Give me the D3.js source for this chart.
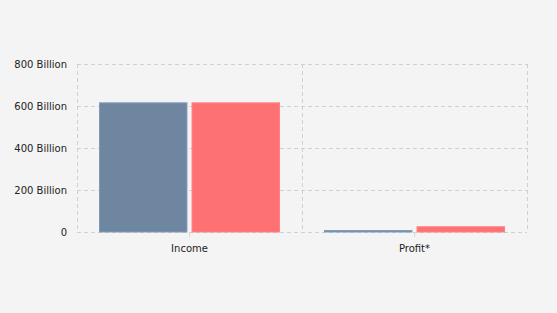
<!DOCTYPE html>
<html>
<head>
<meta charset="utf-8">
<script src="https://cdn.jsdelivr.net/npm/d3@7"></script>
<style>
  body { margin: 0; background: #f4f4f4; }
  svg { display: block; }
</style>
</head>
<body>
<div id="chart"></div>
<script>
// chart data
const categories = ["Income", "Profit*"];
const seriesNames = ["A", "B"];
const seriesA = [615e9, 7e9];
const seriesB = [615e9, 25e9];
const yTicks = [0, 200e9, 400e9, 600e9, 800e9];
const yTickLabels = ["0", "200 Billion", "400 Billion", "600 Billion", "800 Billion"];
const colors = ["#6f86a0", "#fe7172"];
const font = "'DejaVu Sans', Verdana, sans-serif";

const W = 557, H = 313;
const margin = {top: 64, right: 30, bottom: 81, left: 77},
      width = W - margin.left - margin.right,
      height = H - margin.top - margin.bottom;

const svg = d3.select("#chart")
  .append("svg")
  .attr("width", W)
  .attr("height", H)
  .append("g")
  .attr("transform", `translate(${margin.left}, ${margin.top})`);

const x = d3.scaleBand().domain(categories).range([0, width]).paddingInner(0).paddingOuter(0);
const xs = d3.scaleBand().domain(seriesNames).range([x.bandwidth() * 0.1, x.bandwidth() * 0.9]).paddingInner(0.055);
const y = d3.scaleLinear().domain([0, 800e9]).range([height, 0]);

// horizontal grid
svg.append("g")
  .selectAll("line")
  .data(yTicks)
  .join("line")
    .attr("x1", 0).attr("x2", width)
    .attr("y1", d => Math.round(y(d)) + 0.5)
    .attr("y2", d => Math.round(y(d)) + 0.5)
    .style("stroke", "#d0d0d0")
    .style("stroke-dasharray", "4,3");

// vertical grid at category boundaries
const bounds = [0].concat(categories.map(c => x(c) + x.bandwidth()));
svg.append("g")
  .selectAll("line")
  .data(bounds)
  .join("line")
    .attr("x1", d => Math.round(d) + 0.5).attr("x2", d => Math.round(d) + 0.5)
    .attr("y1", 0).attr("y2", height)
    .style("stroke", "#d0d0d0")
    .style("stroke-dasharray", "4,3");

// bars
const data = categories.map((c, i) => ({cat: c, vals: [seriesA[i], seriesB[i]]}));
const groups = svg.append("g")
  .selectAll("g")
  .data(data)
  .join("g")
    .attr("transform", d => `translate(${x(d.cat)},0)`);

groups.selectAll("rect")
  .data(d => d.vals.map((v, j) => ({key: seriesNames[j], v: v, j: j})))
  .join("rect")
    .attr("x", d => xs(d.key))
    .attr("y", d => y(d.v))
    .attr("width", xs.bandwidth())
    .attr("height", d => height - y(d.v))
    .style("fill", d => colors[d.j])
    .style("stroke", d => d3.color(colors[d.j]).brighter(0.4))
    .style("stroke-width", 1);

// x axis
const xAxis = svg.append("g")
  .attr("transform", `translate(0, ${height})`)
  .call(d3.axisBottom(x).tickSize(5).tickPadding(8));
xAxis.select(".domain").remove();
xAxis.selectAll(".tick line").style("stroke", "#d8d8d8");
xAxis.selectAll(".tick text").style("font-family", font).style("font-size", "10px").style("fill", "#222");

// y axis
const yAxis = svg.append("g")
  .call(d3.axisLeft(y).tickValues(yTicks).tickFormat((d, i) => yTickLabels[i]).tickSize(0).tickPadding(10));
yAxis.select(".domain").remove();
yAxis.selectAll(".tick text").style("font-family", font).style("font-size", "10px").style("fill", "#222");
</script>
</body>
</html>
